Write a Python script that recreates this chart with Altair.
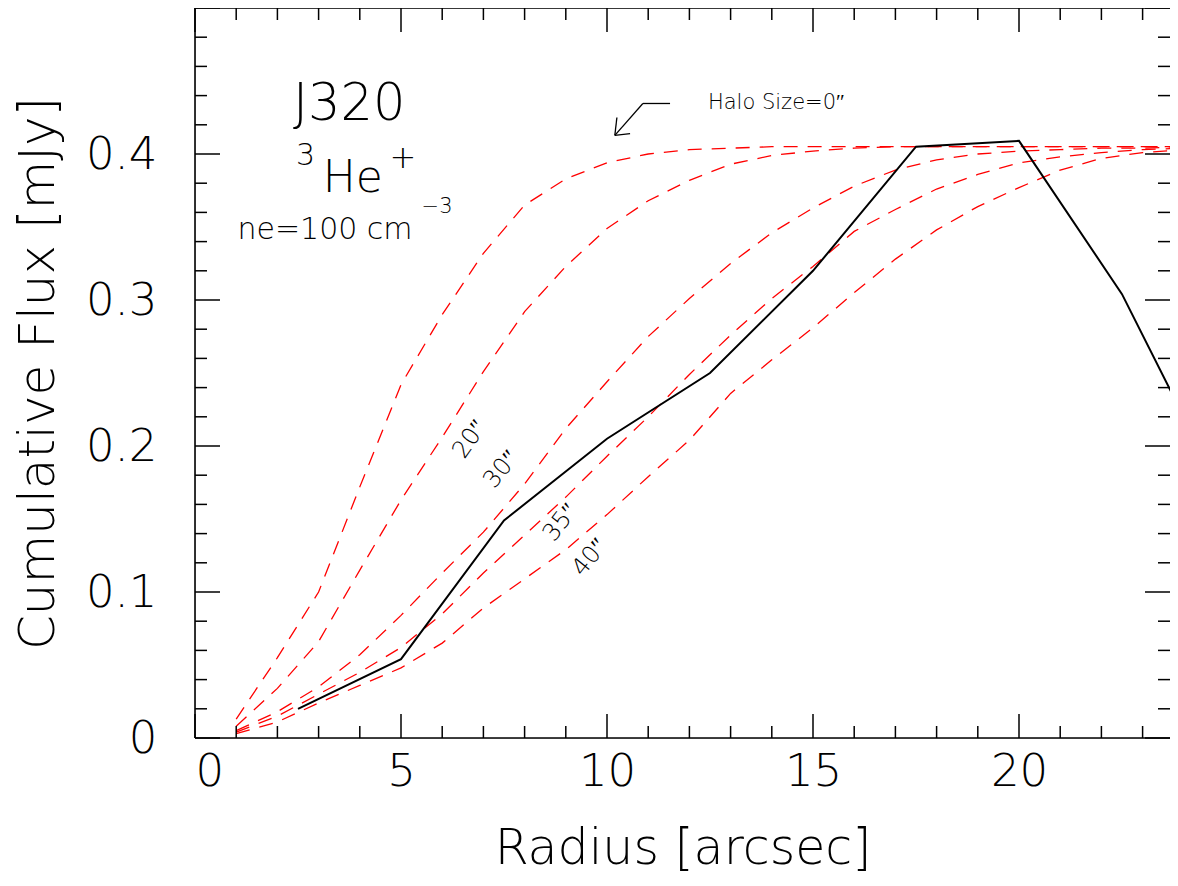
import altair as alt
import pandas as pd

# ---------------- data ----------------
model_radius = list(range(1, 25))
halo_0 = [0.013, 0.055, 0.100, 0.172, 0.242, 0.290, 0.332, 0.365, 0.383, 0.394, 0.400, 0.403,
          0.404, 0.405, 0.405, 0.405, 0.405, 0.405, 0.405, 0.405, 0.405, 0.405, 0.405, 0.405]
halo_20 = [0.008, 0.034, 0.066, 0.115, 0.163, 0.206, 0.251, 0.292, 0.323, 0.349, 0.368, 0.382,
           0.393, 0.399, 0.402, 0.404, 0.405, 0.405, 0.405, 0.405, 0.405, 0.405, 0.405, 0.405]
halo_30 = [0.005, 0.018, 0.035, 0.057, 0.084, 0.113, 0.141, 0.174, 0.212, 0.244, 0.275, 0.301,
           0.325, 0.346, 0.363, 0.378, 0.389, 0.396, 0.400, 0.402, 0.403, 0.404, 0.404, 0.405]
halo_35 = [0.004, 0.015, 0.030, 0.045, 0.062, 0.085, 0.113, 0.139, 0.165, 0.193, 0.220, 0.249,
           0.276, 0.301, 0.323, 0.347, 0.362, 0.376, 0.386, 0.394, 0.398, 0.401, 0.403, 0.404]
halo_40 = [0.003, 0.011, 0.024, 0.036, 0.048, 0.065, 0.089, 0.109, 0.129, 0.153, 0.179, 0.204,
           0.236, 0.259, 0.281, 0.305, 0.328, 0.348, 0.364, 0.377, 0.389, 0.397, 0.401, 0.403]

obs_radius = [2.5, 5, 7.5, 10, 12.5, 15, 17.5, 20, 22.5, 25]
obs_flux = [0.020, 0.054, 0.149, 0.205, 0.250, 0.320, 0.405, 0.409, 0.304, 0.164]

x_major = [0, 5, 10, 15, 20]
x_minor = [v for v in range(0, 24) if v % 5 != 0]
y_major = [0.0, 0.1, 0.2, 0.3, 0.4, 0.5]
y_minor = [round(0.02 * i, 2) for i in range(26) if i % 5 != 0]

# ---------------- layout ----------------
W, H = 975, 730
FONT = "DejaVu Sans"
XMAX, YMAX = 23.665, 0.5

xs = alt.Scale(domain=[0, XMAX], nice=False, zero=False)
ys = alt.Scale(domain=[0, YMAX], nice=False, zero=False)

rows = []
for name, vals in [("0", halo_0), ("20", halo_20), ("30", halo_30), ("35", halo_35), ("40", halo_40)]:
    for r, f in zip(model_radius, vals):
        rows.append({"halo": name, "radius": r, "flux": f})
model_df = pd.DataFrame(rows)
obs_df = pd.DataFrame({"radius": obs_radius, "flux": obs_flux})

base_x = alt.X("radius:Q", scale=xs,
               axis=alt.Axis(values=x_major, title="Radius [arcsec]", grid=False, ticks=False,
                             domain=False, labelFontSize=45, labelFont=FONT, labelFontWeight=200,
                             labelColor="black", labelPadding=11, titleFontSize=49,
                             titleFont=FONT, titleFontWeight=200, titleColor="black",
                             titlePadding=30))
base_y = alt.Y("flux:Q", scale=ys,
               axis=alt.Axis(values=[0, 0.1, 0.2, 0.3, 0.4], title="Cumulative Flux [mJy]",
                             grid=False, ticks=False, domain=False, labelFontSize=45,
                             labelFont=FONT, labelFontWeight=200, labelColor="black",
                             labelPadding=38,
                             labelExpr="datum.value == 0 ? '0' : format(datum.value, '.1f')",
                             titleFontSize=50, titleFont=FONT, titleFontWeight=200,
                             titleColor="black", titlePadding=22))

models = alt.Chart(model_df).mark_line(color="#ff0000", strokeWidth=1.3,
                                       strokeDash=[14, 10], clip=True).encode(
    x=base_x, y=base_y, detail="halo:N")

obs = alt.Chart(obs_df).mark_line(color="black", strokeWidth=2, clip=True).encode(
    x=alt.X("radius:Q", scale=xs), y=alt.Y("flux:Q", scale=ys))

# ---------------- frame and inside ticks ----------------
frame_df = pd.DataFrame({"k": [0]})
frame = [
    alt.Chart(frame_df).mark_rule(color="black", strokeWidth=1.6).encode(
        x=alt.value(0), y=alt.value(0), y2=alt.value(H)),
    alt.Chart(frame_df).mark_rule(color="black", strokeWidth=1.6).encode(
        x=alt.value(0), x2=alt.value(W), y=alt.value(0)),
    alt.Chart(frame_df).mark_rule(color="black", strokeWidth=1.6).encode(
        x=alt.value(0), x2=alt.value(W), y=alt.value(H)),
]

def xticks(vals, length):
    d = pd.DataFrame({"v": vals})
    bot = alt.Chart(d).mark_rule(color="black", strokeWidth=1.5).encode(
        x=alt.X("v:Q", scale=xs), y=alt.value(H), y2=alt.value(H - length))
    top = alt.Chart(d).mark_rule(color="black", strokeWidth=1.5).encode(
        x=alt.X("v:Q", scale=xs), y=alt.value(0), y2=alt.value(length))
    return [bot, top]

def yticks(vals, length):
    d = pd.DataFrame({"v": vals})
    left = alt.Chart(d).mark_rule(color="black", strokeWidth=1.5).encode(
        y=alt.Y("v:Q", scale=ys), x=alt.value(0), x2=alt.value(length))
    right = alt.Chart(d).mark_rule(color="black", strokeWidth=1.5).encode(
        y=alt.Y("v:Q", scale=ys), x=alt.value(W), x2=alt.value(W - length))
    return [left, right]

tick_layers = xticks(x_major, 24) + xticks(x_minor, 12) + yticks(y_major, 25) + yticks(y_minor, 12)

# ---------------- annotations ----------------
def label(text, x, y, size, angle=0, align="left", baseline="alphabetic"):
    d = pd.DataFrame({"t": [text], "x": [x], "y": [y]})
    kw = dict(fontSize=size, font=FONT, fontWeight=200, color="black",
              align=align, baseline=baseline)
    if angle:
        kw["angle"] = angle
    return alt.Chart(d).mark_text(**kw).encode(
        x=alt.X("x:Q", scale=xs), y=alt.Y("y:Q", scale=ys), text="t:N")

texts = [
    label("J320", 2.38, 0.4235, 51),
    label("3", 2.45, 0.3925, 30),
    label("He", 3.10, 0.3737, 44),
    label("+", 4.72, 0.3905, 32),
    label("ne=100 cm", 1.03, 0.3420, 30),
    label("\u22123", 5.50, 0.3595, 21),
    label("Halo Size=0\u2033", 12.45, 0.4346, 21, baseline="middle"),
    label("20\u2033", 6.68, 0.2047, 24, angle=305, align="center", baseline="middle"),
    label("30\u2033", 7.44, 0.1840, 24, angle=309, align="center", baseline="middle"),
    label("35\u2033", 8.88, 0.1476, 24, angle=308, align="center", baseline="middle"),
    label("40\u2033", 9.59, 0.1237, 24, angle=309, align="center", baseline="middle"),
]

arrow_df = pd.DataFrame({
    "x": [11.53, 10.87, 10.19, 10.19],
    "y": [0.4346, 0.4346, 0.4128, 0.4128],
    "x2": [10.87, 10.19, 10.24, 10.56],
    "y2": [0.4346, 0.4128, 0.4250, 0.4140],
})
arrow = alt.Chart(arrow_df).mark_rule(color="black", strokeWidth=1.3).encode(
    x=alt.X("x:Q", scale=xs), y=alt.Y("y:Q", scale=ys), x2="x2:Q", y2="y2:Q")

chart = alt.layer(models, obs, *frame, *tick_layers, arrow, *texts).properties(
    width=W, height=H,
    autosize=alt.AutoSizeParams(type="none"),
    padding={"left": 187, "top": 0, "right": 0, "bottom": 140},
).configure_view(stroke=None).configure(background="white")

chart.save("out.html", embed_options={"renderer": "svg", "actions": False})
